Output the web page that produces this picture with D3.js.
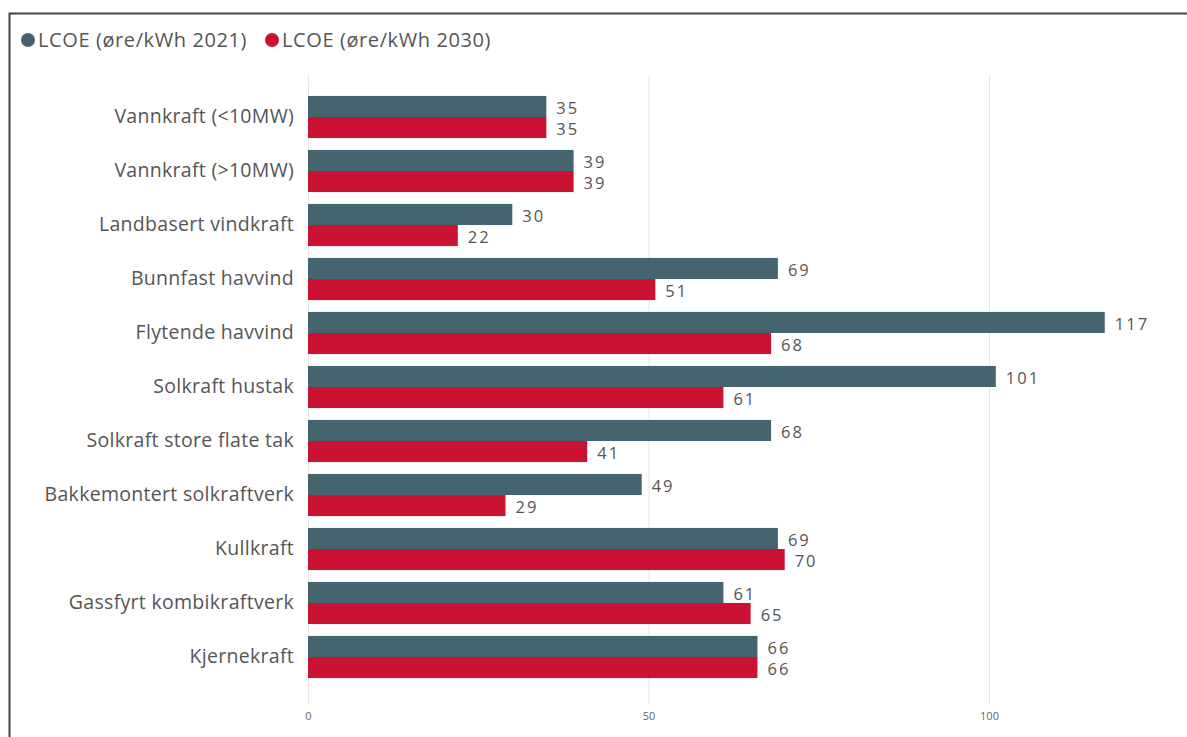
<!DOCTYPE html>
<html lang="en">
<head>
	<meta charset="utf-8">
	<title>LCOE 2021 vs 2030</title>
	<script src="https://cdn.jsdelivr.net/npm/d3@7"></script>
	<style>
		body { margin: 0; background: #fff; }
		text { font-family: "Open Sans", "Noto Sans", sans-serif; }
	</style>
</head>
<body>
	<script>
		const categories = [
			"Vannkraft (<10MW)",
			"Vannkraft (>10MW)",
			"Landbasert vindkraft",
			"Bunnfast havvind",
			"Flytende havvind",
			"Solkraft hustak",
			"Solkraft store flate tak",
			"Bakkemontert solkraftverk",
			"Kullkraft",
			"Gassfyrt kombikraftverk",
			"Kjernekraft"
		];
		const lcoe2021 = [35, 39, 30, 69, 117, 101, 68, 49, 69, 61, 66];
		const lcoe2030 = [35, 39, 22, 51, 68, 61, 41, 29, 70, 65, 66];
		const seriesNames = ["LCOE (øre/kWh 2021)", "LCOE (øre/kWh 2030)"];
		const xTicks = [0, 50, 100];

		const width = 1187, height = 737;
		const colors = ["#44656f", "#cb1232"];

		const svg = d3.select("body").append("svg")
			.attr("width", width)
			.attr("height", height);

		// frame
		svg.append("path")
			.attr("d", `M9.5,${height} V13.5 H${width}`)
			.attr("fill", "none")
			.attr("stroke", "#444")
			.attr("stroke-width", 2);

		const x = d3.scaleLinear().domain([0, 100]).range([308, 989]);
		const y = d3.scaleBand().domain(categories).range([90, 684]).paddingInner(0.22).paddingOuter(0.11);
		const sub = d3.scaleBand().domain([0, 1]).range([0, y.bandwidth()]);

		// grid
		svg.append("g").selectAll("line")
			.data(xTicks)
			.join("line")
			.attr("x1", d => x(d) + 0.5).attr("x2", d => x(d) + 0.5)
			.attr("y1", 75).attr("y2", 705)
			.attr("stroke", "#e6e6e6");

		// x axis labels
		const xAxis = d3.axisBottom(x).tickValues(xTicks).tickSize(0).tickPadding(0);
		const gx = svg.append("g").attr("transform", "translate(0,712)").call(xAxis);
		gx.select(".domain").remove();
		gx.selectAll("text").attr("fill", "#666").attr("font-size", 11);

		// y axis labels
		const yAxis = d3.axisLeft(y).tickSize(0).tickPadding(14);
		const gy = svg.append("g").attr("transform", "translate(308,0)").call(yAxis);
		gy.select(".domain").remove();
		gy.selectAll("text").attr("fill", "#555").attr("font-size", 19.5).attr("letter-spacing", 0.3);

		const rows = categories.map((c, i) => ({ c, vals: [lcoe2021[i], lcoe2030[i]] }));
		const groups = svg.append("g").selectAll("g")
			.data(rows)
			.join("g")
			.attr("transform", d => `translate(0,${y(d.c)})`);

		groups.selectAll("rect")
			.data(d => d.vals.map((v, k) => ({ v, k })))
			.join("rect")
			.attr("x", x(0))
			.attr("y", d => sub(d.k))
			.attr("width", d => x(d.v) - x(0))
			.attr("height", sub.bandwidth())
			.attr("fill", d => colors[d.k]);

		groups.selectAll("text.val")
			.data(d => d.vals.map((v, k) => ({ v, k })))
			.join("text")
			.attr("class", "val")
			.attr("x", d => x(d.v) + 10)
			.attr("y", d => sub(d.k) + sub.bandwidth() / 2 + 2)
			.attr("dy", "0.35em")
			.attr("fill", "#555")
			.attr("font-size", 16.5)
			.attr("letter-spacing", 2)
			.attr("font-family", "Roboto, sans-serif")
			.text(d => d.v);

		// legend
		const legend = svg.append("g");
		const lx = [28, 272];
		seriesNames.forEach((name, k) => {
			legend.append("circle").attr("cx", lx[k]).attr("cy", 40).attr("r", 7).attr("fill", colors[k]);
			legend.append("text").attr("x", lx[k] + 10).attr("y", 40).attr("dy", "0.35em")
				.attr("font-size", 20).attr("letter-spacing", 0.6).attr("fill", "#555").text(name);
		});
	</script>
</body>
</html>
